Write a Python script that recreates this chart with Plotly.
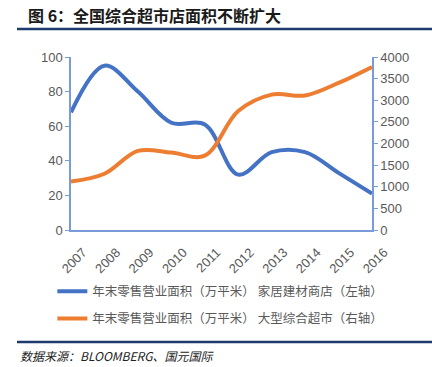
import plotly.graph_objects as go

years = ["2007", "2008", "2009", "2010", "2011", "2012", "2013", "2014", "2015", "2016"]
home_building = [68, 95, 80, 62, 61, 32, 45, 45, 33, 21]
hypermarket = [1120, 1300, 1830, 1790, 1720, 2750, 3130, 3110, 3400, 3770]

name_left = "年末零售营业面积（万平米） 家居建材商店（左轴）"
name_right = "年末零售营业面积（万平米） 大型综合超市（右轴）"

CJK = "Noto Sans CJK SC"
axis_col = "#7A9BD9"
tick_col = "#595959"

fig = go.Figure()
fig.add_trace(go.Scatter(
    x=years, y=home_building, name=name_left, mode="lines",
    line=dict(color="#4472C4", width=4, shape="spline"),
    legendgroup="a", yaxis="y"))
fig.add_trace(go.Scatter(
    x=years, y=hypermarket, name=name_right, mode="lines",
    line=dict(color="#ED7D31", width=4, shape="spline"),
    legendgroup="b", yaxis="y2"))

fig.update_layout(
    width=432, height=367,
    margin=dict(l=71, r=60, t=57, b=137),
    paper_bgcolor="white", plot_bgcolor="white",
    showlegend=True,
    legend=dict(x=-0.062, y=-0.27, xanchor="left", yanchor="top",
                font=dict(family=CJK, size=12.5, color=tick_col),
                tracegroupgap=8, bgcolor="rgba(0,0,0,0)"),
    xaxis=dict(type="category", tickangle=-45, showgrid=False,
               showline=True, linecolor=axis_col, linewidth=1.5,
               ticks="", ticklabelshift=12, ticklabelstandoff=8,
               tickfont=dict(family="Liberation Sans", size=13, color=tick_col)),
    yaxis=dict(range=[0, 100], dtick=20, showgrid=False, zeroline=False,
               showline=True, linecolor=axis_col, linewidth=1.5,
               ticks="outside", ticklen=4, tickcolor=axis_col,
               tickfont=dict(family="Liberation Sans", size=13, color=tick_col)),
    yaxis2=dict(range=[0, 4000], dtick=500, overlaying="y", side="right",
                showgrid=False, zeroline=False,
                showline=True, linecolor=axis_col, linewidth=1.5,
                ticks="outside", ticklen=4, tickcolor=axis_col,
                tickfont=dict(family="Liberation Sans", size=13, color=tick_col)),
)

# title and rules
fig.add_annotation(text="<b>图 6：全国综合超市店面积不断扩大</b>", xref="paper", yref="paper",
                   x=-0.15, y=(230.5 - 15) / 173, xanchor="left", yanchor="middle", showarrow=False,
                   font=dict(family=CJK, size=16, color="#1a1a1a"))
fig.add_shape(type="line", xref="paper", yref="paper",
              x0=(17 - 71) / 301, x1=(432 - 71) / 301,
              y0=(230.5 - 29.5) / 173, y1=(230.5 - 29.5) / 173,
              line=dict(color="#1F3A6E", width=2.5))
fig.add_shape(type="line", xref="paper", yref="paper",
              x0=(17 - 71) / 301, x1=(432 - 71) / 301,
              y0=(230.5 - 342.5) / 173, y1=(230.5 - 342.5) / 173,
              line=dict(color="#1F3A6E", width=2.5))
fig.add_annotation(text="<i>数据来源：BLOOMBERG、国元国际</i>", xref="paper", yref="paper",
                   x=(18 - 71) / 301, y=(230.5 - 356) / 173, xanchor="left", yanchor="middle",
                   showarrow=False, font=dict(family=CJK, size=12, color="#222222"))

fig.write_html("out.html", config={"displayModeBar": False},
               post_script="document.body.style.margin='0';document.body.style.padding='0';")
